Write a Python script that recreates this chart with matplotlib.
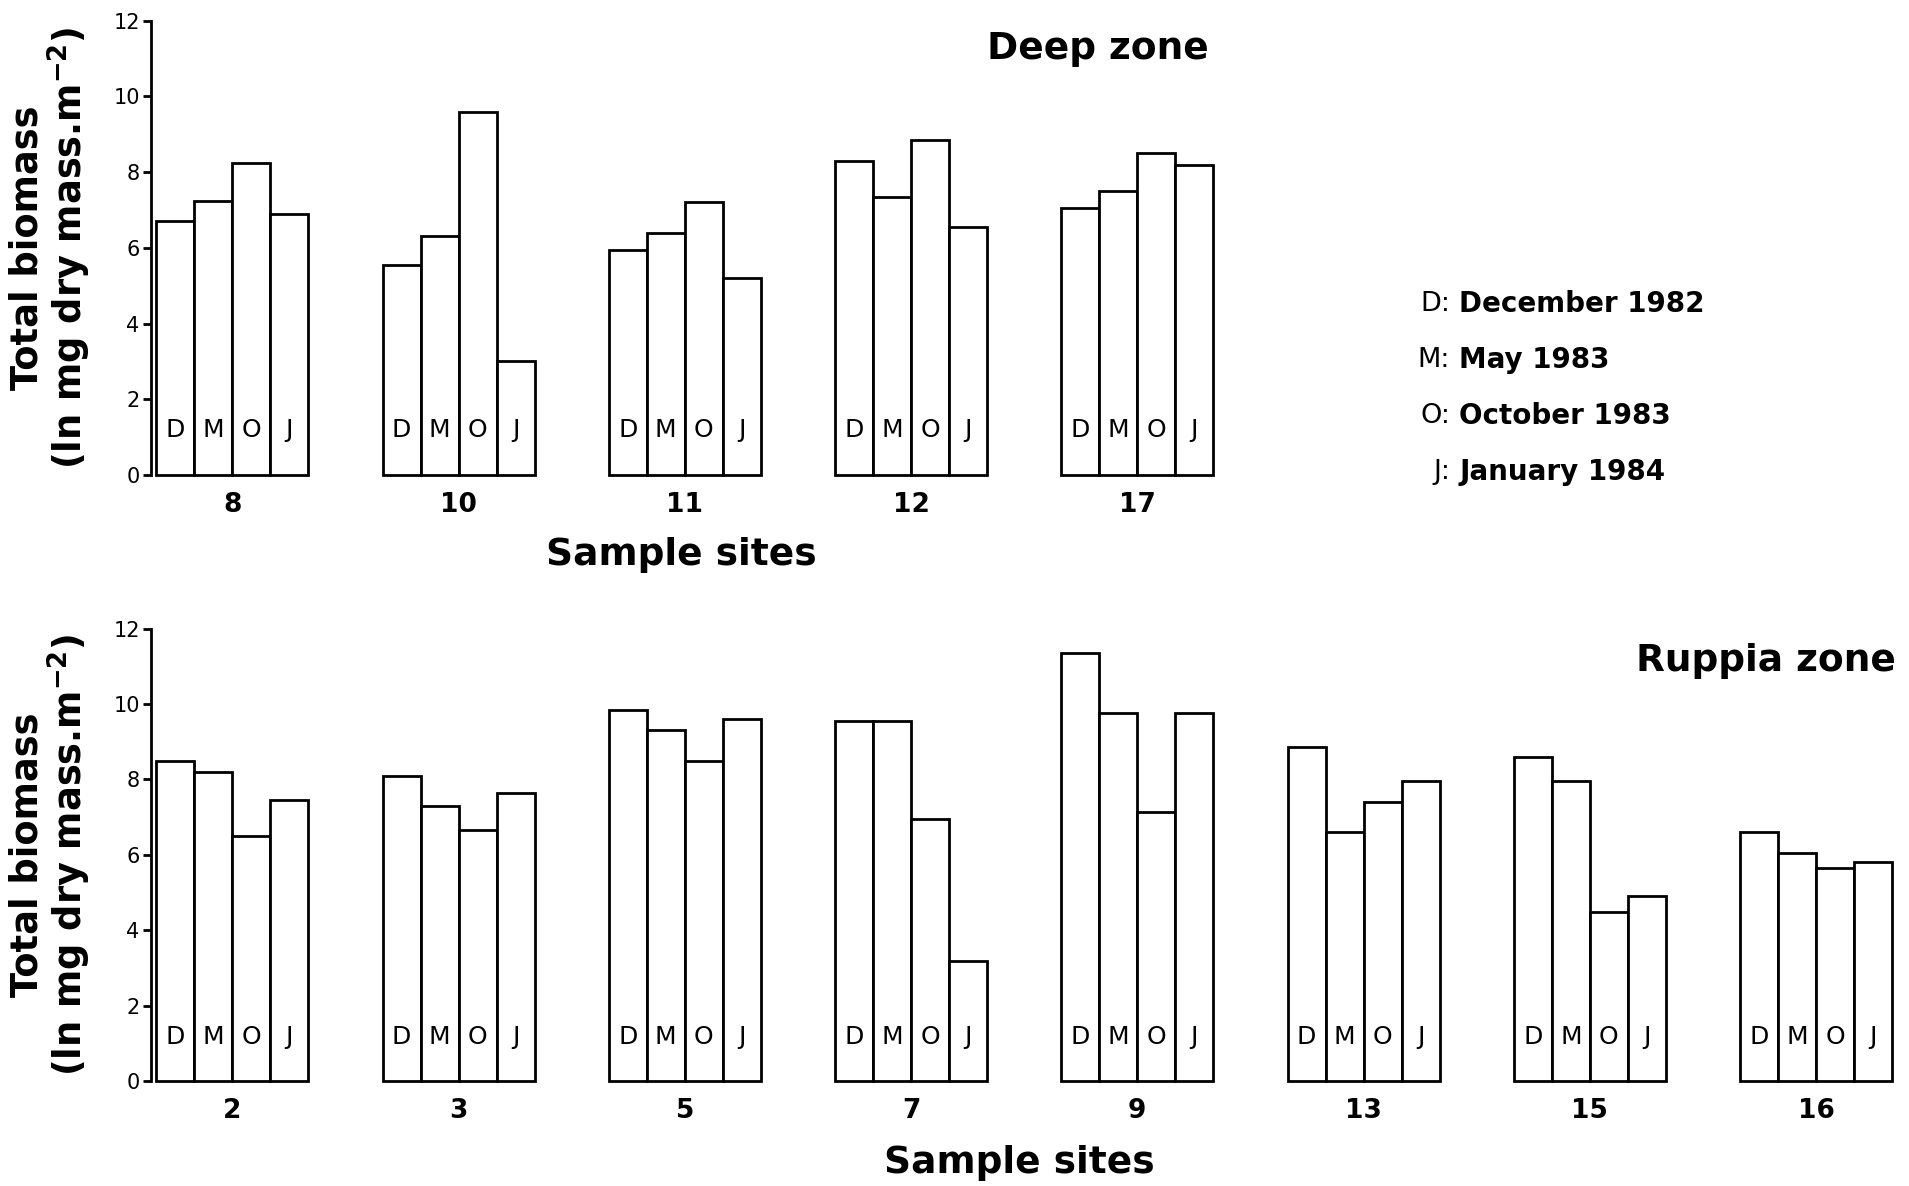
import matplotlib.pyplot as plt
import numpy as np

plt.rcParams['font.family'] = ['DejaVu Sans']
plt.rcParams['mathtext.fontset'] = 'dejavusans'
plt.rcParams['mathtext.default'] = 'bf'

# ln total biomass per site, one list per sampling month
deep_sites = ['8', '10', '11', '12', '17']
deep_dec = [6.7, 5.55, 5.95, 8.3, 7.05]
deep_may = [7.25, 6.3, 6.4, 7.35, 7.5]
deep_oct = [8.25, 9.6, 7.2, 8.85, 8.5]
deep_jan = [6.9, 3.0, 5.2, 6.55, 8.2]

ruppia_sites = ['2', '3', '5', '7', '9', '13', '15', '16']
ruppia_dec = [8.5, 8.1, 9.85, 9.55, 11.35, 8.85, 8.6, 6.6]
ruppia_may = [8.2, 7.3, 9.3, 9.55, 9.75, 6.6, 7.95, 6.05]
ruppia_oct = [6.5, 6.65, 8.5, 6.95, 7.15, 7.4, 4.5, 5.65]
ruppia_jan = [7.45, 7.65, 9.6, 3.2, 9.75, 7.95, 4.9, 5.8]

month_codes = ['D', 'M', 'O', 'J']
month_names = ['December 1982', 'May 1983', 'October 1983', 'January 1984']

bar_w = 0.168
letter_y = 1.18


def draw_zone(ax, sites, series):
    x = np.arange(len(sites))
    for k, vals in enumerate(series):
        pos = x + (k - 1.5) * bar_w
        ax.bar(pos, vals, width=bar_w, color='white', edgecolor='black',
               linewidth=2, clip_on=False, zorder=2)
        for p in pos:
            ax.text(p, letter_y, month_codes[k], ha='center', va='center',
                    fontsize=18, zorder=3)
    ax.set_xlim(-0.36, 7.36)
    ax.set_ylim(0, 12)
    ax.set_yticks(range(0, 13, 2))
    ax.set_xticks(x)
    ax.set_xticklabels(sites, fontsize=19, fontweight='bold')
    ax.tick_params(axis='x', length=0, pad=12)
    ax.tick_params(axis='y', length=6, width=2, pad=2, labelsize=15)
    for s in ['top', 'right', 'bottom']:
        ax.spines[s].set_visible(False)
    ax.spines['left'].set_linewidth(2)


fig = plt.figure(figsize=(19.09, 11.86), dpi=100)
ax1 = fig.add_axes([0.079, 0.5996, 0.915, 0.3829])
ax2 = fig.add_axes([0.079, 0.0883, 0.915, 0.3817])

draw_zone(ax1, deep_sites, [deep_dec, deep_may, deep_oct, deep_jan])
draw_zone(ax2, ruppia_sites, [ruppia_dec, ruppia_may, ruppia_oct, ruppia_jan])

ylab = 'Total biomass\n(ln mg dry mass.m$^{-2}$)'
for yc in [0.791, 0.279]:
    fig.text(0.0265, yc, ylab, rotation=90, ha='center', va='center',
             fontsize=26.5, fontweight='bold', multialignment='center',
             linespacing=1.0)

fig.text(0.357, 0.532, 'Sample sites', ha='center', va='center',
         fontsize=27, fontweight='bold')
fig.text(0.534, 0.0195, 'Sample sites', ha='center', va='center',
         fontsize=27, fontweight='bold')

fig.text(0.575, 0.959, 'Deep zone', ha='center', va='center',
         fontsize=27, fontweight='bold')
fig.text(0.993, 0.443, 'Ruppia zone', ha='right', va='center',
         fontsize=27, fontweight='bold')

# month key
for i, (code, name) in enumerate(zip(month_codes, month_names)):
    y = 0.7433 - i * 0.0472
    fig.text(0.7595, y, code + ':', ha='right', va='center', fontsize=19.5)
    fig.text(0.7645, y, name, ha='left', va='center', fontsize=20,
             fontweight='bold')

fig.savefig('out.png', dpi=100, facecolor='white')
